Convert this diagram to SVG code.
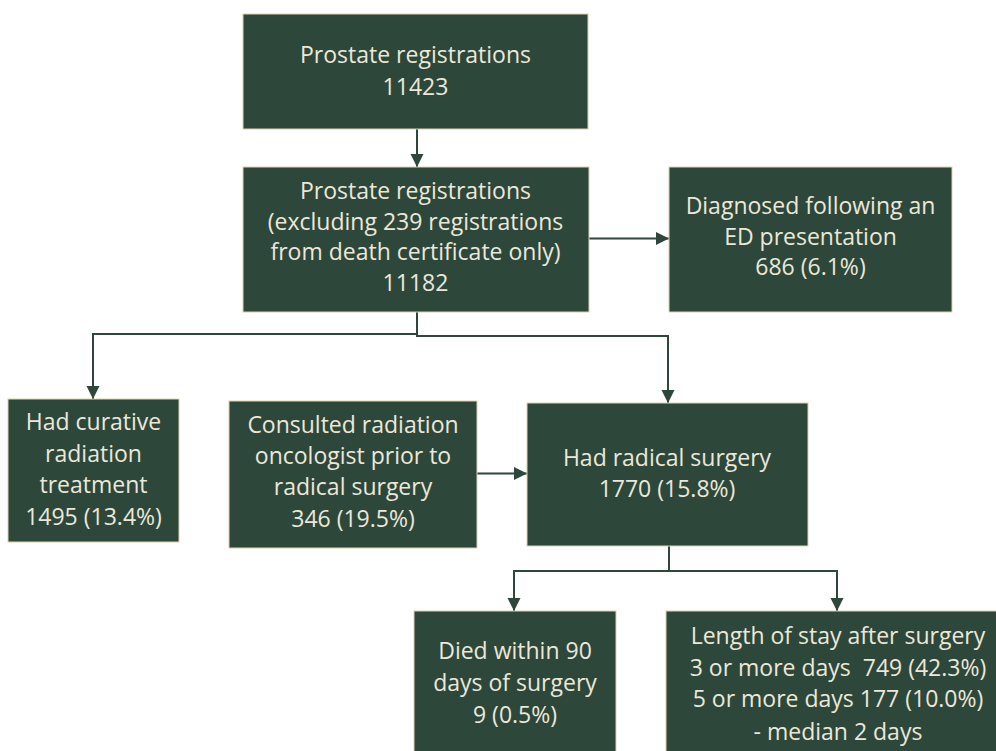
<svg xmlns="http://www.w3.org/2000/svg" width="996" height="751" viewBox="0 0 996 751">
<defs>
<style>
.box{fill:#2d473b;stroke:#ddd2b4;stroke-width:1}
.t{font-family:"Open Sans","Noto Sans","Liberation Sans",sans-serif;font-size:23px;fill:#ece8d9;text-anchor:middle}
.c{fill:none;stroke:#2d473b;stroke-width:2}
</style>
<marker id="ah" markerUnits="userSpaceOnUse" markerWidth="14" markerHeight="14" refX="13" refY="7" orient="auto">
<path d="M0,0.5 L13,7 L0,13.5 z" fill="#2d473b"/>
</marker>
</defs>
<rect width="996" height="751" fill="#ffffff"/>
<g id="connectors">
<path class="c" d="M417,129 V167" marker-end="url(#ah)"/>
<path class="c" d="M589,238.5 H669" marker-end="url(#ah)"/>
<path class="c" d="M417,312 V334 H93 V399" marker-end="url(#ah)"/>
<path class="c" d="M417,312 V336 H668 V403" marker-end="url(#ah)"/>
<path class="c" d="M477,473.5 H527" marker-end="url(#ah)"/>
<path class="c" d="M669,546 V571 H514 V611" marker-end="url(#ah)"/>
<path class="c" d="M669,571 H837 V611" marker-end="url(#ah)"/>
</g>
<g id="n1">
<rect class="box" x="243" y="14" width="345" height="115"/>
<text class="t" x="415.5" y="63">Prostate registrations</text>
<text class="t" x="415.5" y="95">11423</text>
</g>
<g id="n2">
<rect class="box" x="243" y="167" width="346" height="145"/>
<text class="t" x="415.5" y="199">Prostate registrations</text>
<text class="t" x="415.5" y="229.5">(excluding 239 registrations</text>
<text class="t" x="415.5" y="260">from death certificate only)</text>
<text class="t" x="415.5" y="290.5">11182</text>
</g>
<g id="n3">
<rect class="box" x="669" y="167" width="283" height="145"/>
<text class="t" x="810.5" y="214">Diagnosed following an</text>
<text class="t" x="810.5" y="244.5">ED presentation</text>
<text class="t" x="810.5" y="275">686 (6.1%)</text>
</g>
<g id="n4">
<rect class="box" x="8" y="399" width="171" height="143"/>
<text class="t" x="93.5" y="430">Had curative</text>
<text class="t" x="93.5" y="462">radiation</text>
<text class="t" x="93.5" y="493">treatment</text>
<text class="t" x="93.5" y="525">1495 (13.4%)</text>
</g>
<g id="n5">
<rect class="box" x="229" y="401" width="248" height="147"/>
<text class="t" x="353" y="433">Consulted radiation</text>
<text class="t" x="353" y="464">oncologist prior to</text>
<text class="t" x="353" y="495">radical surgery</text>
<text class="t" x="353" y="527">346 (19.5%)</text>
</g>
<g id="n6">
<rect class="box" x="527" y="403" width="281" height="143"/>
<text class="t" x="667" y="466">Had radical surgery</text>
<text class="t" x="667" y="497">1770 (15.8%)</text>
</g>
<g id="n7">
<rect class="box" x="414" y="611" width="202" height="150"/>
<text class="t" x="515" y="659">Died within 90</text>
<text class="t" x="515" y="691">days of surgery</text>
<text class="t" x="515" y="723">9 (0.5%)</text>
</g>
<g id="n8">
<rect class="box" x="666" y="611" width="345" height="150"/>
<text class="t" x="838" y="644">Length of stay after surgery</text>
<text class="t" x="838" y="676" xml:space="preserve">3 or more days  749 (42.3%)</text>
<text class="t" x="838" y="707">5 or more days 177 (10.0%)</text>
<text class="t" x="838" y="740">- median 2 days</text>
</g>
</svg>
